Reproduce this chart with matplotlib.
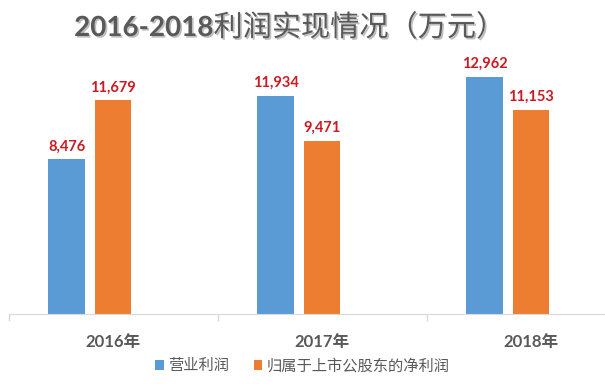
import matplotlib
matplotlib.use("Agg")
import matplotlib.pyplot as plt
import matplotlib.patheffects as pe
import numpy as np

years = ["2016年", "2017年", "2018年"]
series_names = ["营业利润", "归属于上市公股东的净利润"]
operating_profit = [8476, 11934, 12962]
net_profit = [11679, 9471, 11153]

BLUE = "#5B9BD5"
ORANGE = "#ED7D31"
GRAY = "#595959"
RED = "#CC1A22"
FONTS = ["Lato", "Noto Sans CJK SC", "DejaVu Sans"]

plt.rcParams["font.family"] = FONTS

fig = plt.figure(figsize=(6.05, 3.84), dpi=100)
ax = fig.add_axes([0.0, 0.181, 1.0, 0.7646])

x = np.arange(len(years))
width = 0.175
b1 = ax.bar(x - 0.2225, operating_profit, width, color=BLUE, label=series_names[0])
b2 = ax.bar(x, net_profit, width, color=ORANGE, label=series_names[1])

for bars in (b1, b2):
    for rect in bars:
        v = rect.get_height()
        ax.annotate(f"{v:,.0f}", xy=(rect.get_x() + rect.get_width() / 2, v),
                    xytext=(0, 4), textcoords="offset points",
                    ha="center", va="bottom", fontsize=10.5,
                    fontweight="bold", color=RED)

ax.set_xlim(-0.541, 2.354)
ax.set_ylim(0, 16000)
ax.set_yticks([])
for side in ("top", "right", "left"):
    ax.spines[side].set_visible(False)
ax.spines["bottom"].set_color("#D9D9D9")
ax.spines["bottom"].set_bounds(-0.5, 2.354)

ax.set_xticks(x)
ax.set_xticklabels(years, fontsize=12, fontweight="bold", color=GRAY)
ax.tick_params(axis="x", which="major", length=0, pad=14)
ax.set_xticks([-0.5, 0.5, 1.5], minor=True)
ax.tick_params(axis="x", which="minor", length=5, color="#D9D9D9", width=1)

leg = fig.legend(handles=[b1, b2], loc="center", bbox_to_anchor=(0.5, 1 - 366 / 384),
                 ncol=2, frameon=False, fontsize=11, handlelength=0.55,
                 handleheight=0.55, handletextpad=0.3, columnspacing=1.6,
                 labelcolor=GRAY)

shadow = [pe.withSimplePatchShadow(offset=(1.2, -1.2), shadow_rgbFace="#000000", alpha=0.25)]
split_x = 213.5 / 605
title_y = 1 - 28 / 384
fig.text(split_x, title_y, "2016-2018", ha="right", va="center", fontsize=20,
         fontweight="bold", color=GRAY, path_effects=shadow)
fig.text(split_x, title_y, "利润实现情况（万元）", ha="left", va="center", fontsize=21,
         color=GRAY, family=["Noto Sans CJK SC", "DejaVu Sans"], path_effects=shadow)

fig.savefig("out.png", dpi=100)
